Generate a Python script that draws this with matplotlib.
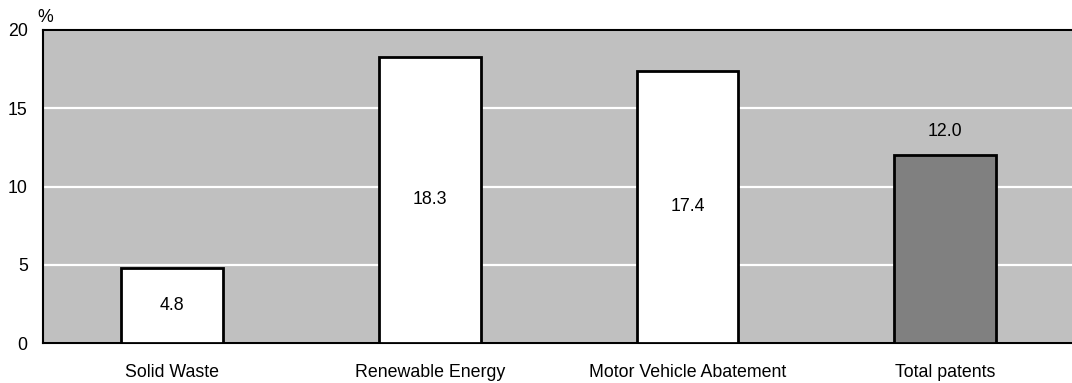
import matplotlib
matplotlib.use("Agg")
import matplotlib.pyplot as plt

categories = ["Solid Waste", "Renewable Energy", "Motor Vehicle Abatement", "Total patents"]
values = [4.8, 18.3, 17.4, 12.0]
bar_colors = ["white", "white", "white", "#808080"]
yticks = [0, 5, 10, 15, 20]

plt.rcParams["font.family"] = ["Liberation Sans", "DejaVu Sans"]
plt.rcParams["font.size"] = 12.8

fig = plt.figure(figsize=(10.72, 3.83), dpi=100)
ax = fig.add_axes([43 / 1072, 1 - 343 / 383, 1 - 43 / 1072 + 0.002, 313 / 383])
ax.set_facecolor("#C0C0C0")

x = range(len(categories))
bars = ax.bar(x, values, width=0.395, color=bar_colors, edgecolor="black", linewidth=2, zorder=3)

ax.set_ylim(0, 20)
ax.set_xlim(-0.5, 3.5)
ax.set_yticks(yticks)
ax.set_xticks(list(x))
ax.set_xticklabels(categories)
ax.tick_params(length=0)
ax.tick_params(axis="y", pad=11)
ax.tick_params(axis="x", pad=15)
ax.yaxis.grid(True, color="white", linewidth=1.6, zorder=1)
ax.set_axisbelow(True)

for s in ["left", "bottom", "top"]:
    ax.spines[s].set_linewidth(1.5)
ax.spines["right"].set_visible(False)

# labels: inside the bar for the white ones, above for the total
for i, v in enumerate(values):
    if i == len(values) - 1:
        ax.text(i, v + 1.0, f"{v:.1f}", ha="center", va="bottom", zorder=4)
    else:
        ax.text(i, v / 2, f"{v:.1f}", ha="center", va="center", zorder=4)

fig.text(37 / 1072, 1 - 18 / 383, "%", ha="left", va="center")

fig.savefig("out.png", dpi=100)
